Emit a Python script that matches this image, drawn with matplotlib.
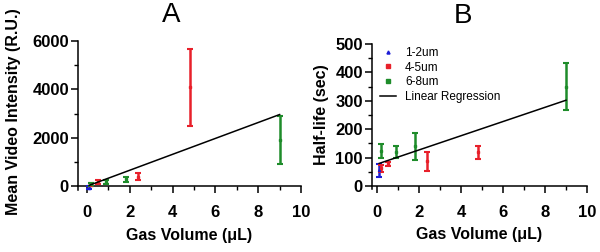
import matplotlib
matplotlib.use("Agg")
import matplotlib.pyplot as plt
from matplotlib.lines import Line2D
from matplotlib.ticker import MultipleLocator

plt.rcParams['font.family'] = ['Liberation Sans', 'DejaVu Sans']

# gas volume (uL) per bubble size group
x_12 = [0.1]
x_45 = [0.2, 0.5, 2.4, 4.8]
x_68 = [0.2, 0.9, 1.8, 9.0]

# panel A: mean video intensity (R.U.)
A_12, A_12_err = [-60], [60]
A_45, A_45_err = [60, 180, 390, 4080], [50, 80, 150, 1580]
A_68, A_68_err = [80, 170, 280, 1900], [60, 100, 100, 1000]
A_reg = (329, -3)  # slope, intercept

# panel B: half-life (sec)
B_12, B_12_err = [55], [23]
B_45, B_45_err = [62, 78, 87, 118], [12, 6, 33, 24]
B_68, B_68_err = [122, 120, 140, 350], [25, 22, 47, 84]
B_reg = (25, 77)

labels = ['1-2um', '4-5um', '6-8um']
colors = ['#1c1cd6', '#e8202a', '#1e8c2a']
markers = ['^', 's', 's']
x_min, x_max = 0.1, 9.0

fig = plt.figure(figsize=(6, 2.52), dpi=100)
axA = fig.add_axes([0.13, 0.2329, 0.3717, 0.6044])
axB = fig.add_axes([0.62, 0.2337, 0.3583, 0.5917])


def draw(ax, ys, errs, reg, xlo, ylim, ymajor, yminor, sb):
    for x, y, e, c, m in zip([x_12, x_45, x_68], ys, errs, colors, markers):
        ax.errorbar(x, y, yerr=e, fmt=m, color=c, ms=1.6, elinewidth=1.8,
                    capsize=2.2, capthick=1.5, zorder=3)
    slope, icpt = reg
    ax.plot([x_min, x_max], [icpt + slope * x_min, icpt + slope * x_max],
            color='black', lw=1.1, zorder=4)
    ax.set_xlim(xlo, 10)
    ax.set_ylim(*ylim)
    ax.xaxis.set_major_locator(MultipleLocator(2))
    ax.xaxis.set_minor_locator(MultipleLocator(1))
    ax.yaxis.set_major_locator(MultipleLocator(ymajor))
    ax.yaxis.set_minor_locator(MultipleLocator(yminor))
    for s in ['top', 'right']:
        ax.spines[s].set_visible(False)
    ax.spines['bottom'].set_position(('data', 0))
    ax.spines['left'].set_bounds(sb, ylim[1])
    for s in ['bottom', 'left']:
        ax.spines[s].set_linewidth(1.1)
    ax.tick_params(which='major', length=5, width=1.1)
    ax.tick_params(which='minor', length=3, width=1.0)
    ax.tick_params(axis='y', pad=1.5)
    ax.tick_params(axis='x', pad=8.5)
    for t in ax.get_xticklabels() + ax.get_yticklabels():
        t.set_fontweight('bold')
        t.set_fontsize(12)


draw(axA, [A_12, A_45, A_68], [A_12_err, A_45_err, A_68_err], A_reg,
     -0.42, (-300, 6000), 2000, 1000, -150)
draw(axB, [B_12, B_45, B_68], [B_12_err, B_45_err, B_68_err], B_reg,
     -0.24, (-25, 500), 100, 50, -12)

axA.set_xlabel('Gas Volume (\u03bcL)', fontsize=11.5, fontweight='bold', va='center')
axA.xaxis.set_label_coords(0.497, -0.274)
axA.set_ylabel('Mean Video Intensity (R.U.)', fontsize=11.5, fontweight='bold', va='center')
axA.yaxis.set_label_coords(-0.287, 0.537)

axB.set_xlabel('Gas Volume (\u03bcL)', fontsize=11.5, fontweight='bold', va='center')
axB.xaxis.set_label_coords(0.498, -0.28)
axB.set_ylabel('Half-life (sec)', fontsize=11.5, fontweight='bold', va='center')
axB.yaxis.set_label_coords(-0.237, 0.523)

fig.text(171 / 600, 1 - 15 / 252, 'A', ha='center', va='center', fontsize=20)
fig.text(463 / 600, 1 - 16 / 252, 'B', ha='center', va='center', fontsize=20)

handles = [Line2D([], [], ls='none', marker=m, color=c, ms=2.2)
           for m, c in zip(markers, colors)]
handles.append(Line2D([], [], color='black', lw=1.1))
axB.legend(handles, labels + ['Linear Regression'], loc='upper left',
           bbox_to_anchor=(8 / 215, 0.98), frameon=False, fontsize=8.5,
           handlelength=1.35, handletextpad=0.76, labelspacing=0.22,
           borderaxespad=0, borderpad=0)

fig.savefig('out.png', dpi=100)
